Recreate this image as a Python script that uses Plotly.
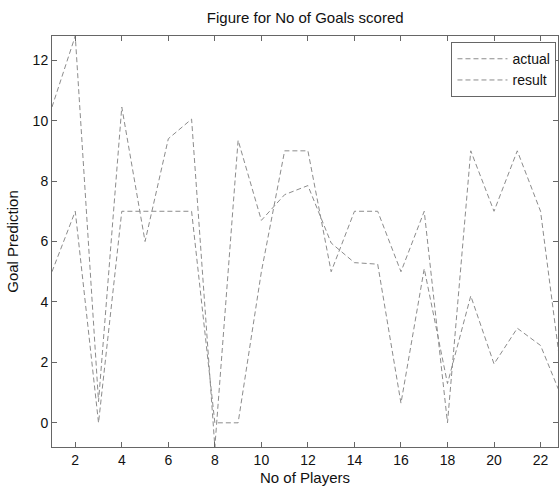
import plotly.graph_objects as go

players = list(range(1, 24))
actual = [5, 7, 0, 7, 7, 7, 7, 0, 0, 5, 9, 9, 5, 7, 7, 5, 7, 0, 9, 7, 9, 7, 1]
result = [10.45, 12.8, 0.7, 10.45, 6.0, 9.4, 10.05, -0.8, 9.35, 6.7, 7.55, 7.85,
          5.95, 5.3, 5.25, 0.65, 5.1, 1.3, 4.2, 1.95, 3.13, 2.56, 0.67]
x_ticks = [2, 4, 6, 8, 10, 12, 14, 16, 18, 20, 22]
y_ticks = [0, 2, 4, 6, 8, 10, 12]

line_color = "#8c8c8c"
frame_color = "#666666"
font_family = "Liberation Sans, Arial, sans-serif"

fig = go.Figure()
fig.add_trace(go.Scatter(x=players, y=actual, mode="lines", name="actual",
                         line=dict(color=line_color, width=1, dash="5px,3px")))
fig.add_trace(go.Scatter(x=players, y=result, mode="lines", name="result",
                         line=dict(color=line_color, width=1, dash="5px,3px")))

axis_common = dict(showgrid=False, zeroline=False, showline=True, linecolor=frame_color,
                   linewidth=1, mirror="ticks", ticks="inside", ticklen=5,
                   tickcolor=frame_color, tickfont=dict(size=14, color="#111111", family=font_family),
                   automargin=False)

fig.update_layout(
    width=560, height=486,
    margin=dict(l=52, r=2, t=36, b=39),
    paper_bgcolor="white", plot_bgcolor="white",
    font=dict(family=font_family, color="#111111"),
    title=dict(text="Figure for No of Goals scored", x=0.545, xanchor="center",
               y=0.963, yanchor="middle", font=dict(size=15, color="#111111")),
    xaxis=dict(range=[1, 22.75], tickvals=x_ticks,
               title=dict(text="No of Players", font=dict(size=15), standoff=16),
               **axis_common),
    yaxis=dict(range=[-0.8, 12.8], tickvals=y_ticks,
               title=dict(text="Goal Prediction", font=dict(size=15), standoff=10),
               **axis_common),
    legend=dict(x=0.997, xanchor="right", y=0.985, yanchor="top",
                bordercolor=frame_color, borderwidth=1, bgcolor="white",
                font=dict(size=14, color="#111111"), itemwidth=50,
                tracegroupgap=0),
    showlegend=True,
)

fig.write_html("out.html", config={"displayModeBar": False},
               post_script="document.body.style.margin='0';document.body.style.overflow='hidden';")
